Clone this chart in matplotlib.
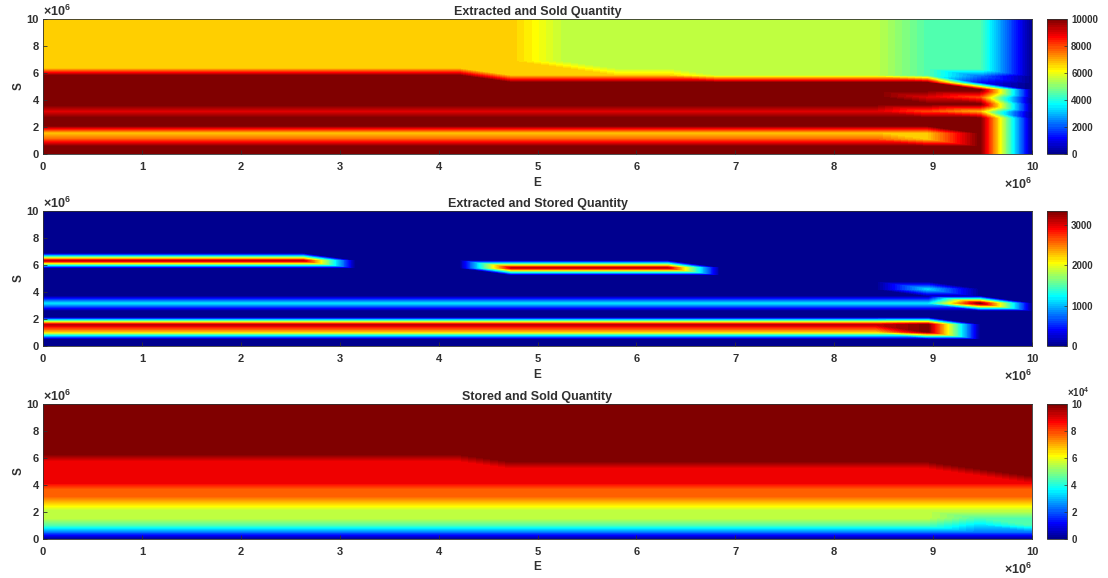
#!/usr/bin/env python3
import numpy as np
import matplotlib
matplotlib.use('Agg')
import matplotlib.pyplot as plt
import matplotlib.tri as mtri
from matplotlib.cm import ScalarMappable
from matplotlib.colors import ListedColormap, Normalize

plt.rcParams['font.family'] = ['Liberation Sans', 'DejaVu Sans']
plt.rcParams['font.weight'] = 'bold'
plt.rcParams['mathtext.fontset'] = 'custom'
plt.rcParams['mathtext.rm'] = 'Liberation Sans:bold'
plt.rcParams['mathtext.default'] = 'regular'

# grid nodes, in millions
e_nodes = [0, 0.526, 1.053, 1.579, 2.105, 2.632, 3.158, 3.684, 4.211, 4.737,
           5.263, 5.789, 6.316, 6.842, 7.368, 7.895, 8.421, 8.947, 9.474, 10]
s_nodes = [0, 0.526, 1.053, 1.579, 2.105, 2.632, 3.158, 3.684, 4.211, 4.737,
           5.263, 5.789, 6.316, 6.842, 7.368, 7.895, 8.421, 8.947, 9.474, 10]

# one row per S node, one value per E node
sold_rows = [
    [10000] * 19 + [0],
    [10000] * 19 + [0],
    [7778] * 17 + [6667, 10000, 0],
    [6667] * 18 + [10000, 0],
    [10000] * 19 + [0],
    [10000] * 19 + [0],
    [8889] * 17 + [7778, 6667, 0],
    [10000] * 19 + [0],
    [10000] * 17 + [8889, 7778, 0],
    [10000] * 19 + [0],
    [10000] * 18 + [1111, 0],
    [10000] * 9 + [6667] * 4 + [5556] * 4 + [4444, 2222, 0],
    [6667] * 11 + [5556] * 6 + [4444, 4444, 0],
] + [[6667] * 10 + [5556] * 7 + [4444, 4444, 0]] * 7

stored_rows = [
    [0] * 20,
    [0] * 20,
    [2222] * 17 + [3333, 0, 0],
    [3100] * 17 + [3333, 0, 0],
    [0] * 20,
    [0] * 20,
    [1111] * 18 + [3333, 0],
    [0] * 20,
    [0] * 17 + [1111, 0, 0],
    [0] * 20,
    [0] * 20,
    [0] * 9 + [3100] * 4 + [0] * 7,
    [3100] * 6 + [0] * 14,
] + [[0] * 20] * 7

stored_sold_rows = [
    [0] * 20,
    [22222] * 20,
    [44444] * 18 + [33333, 44444],
    [55556] * 18 + [44444, 44444],
    [55556] * 20,
    [66667] * 20,
    [77778] * 20,
    [77778] * 20,
    [88889] * 20,
    [88889] * 19 + [100000],
    [88889] * 18 + [100000, 100000],
    [88889] * 9 + [100000] * 11,
] + [[100000] * 20] * 8

titles = ['Extracted and Sold Quantity', 'Extracted and Stored Quantity', 'Stored and Sold Quantity']
color_max = [10000, 3350, 100000]
cbar_ticks = [[0, 2000, 4000, 6000, 8000, 10000], [0, 1000, 2000, 3000],
              [0, 20000, 40000, 60000, 80000, 100000]]
cbar_labels = [['0', '2000', '4000', '6000', '8000', '10000'], ['0', '1000', '2000', '3000'],
               ['0', '2', '4', '6', '8', '10']]
axis_ticks = [0, 2, 4, 6, 8, 10]
e_ticks = [0, 1, 2, 3, 4, 5, 6, 7, 8, 9, 10]

W, H = 1108, 578
DARK = '#303030'


def matlab_jet(n=64):
    x = (np.arange(n) + 1) / n
    r = np.clip(np.minimum(4 * x - 1.5, -4 * x + 4.5), 0, 1)
    g = np.clip(np.minimum(4 * x - 0.5, -4 * x + 3.5), 0, 1)
    b = np.clip(np.minimum(4 * x + 0.5, -4 * x + 2.5), 0, 1)
    return ListedColormap(np.column_stack([r, g, b]))


def make_triangulation():
    # each cell is split along the top-left to bottom-right diagonal
    ex, sy = np.meshgrid(e_nodes, s_nodes)
    nx, ny = len(e_nodes), len(s_nodes)
    triangles = []
    for j in range(ny - 1):
        for i in range(nx - 1):
            a = j * nx + i
            b = a + 1
            c = a + nx
            d = c + 1
            triangles.append([a, b, c])
            triangles.append([c, b, d])
    return mtri.Triangulation(ex.ravel() * 1e6, sy.ravel() * 1e6, triangles)


def px_axes(fig, x0, y0, x1, y1):
    return fig.add_axes([x0 / W, 1 - y1 / H, (x1 - x0) / W, (y1 - y0) / H])


def draw_panel(fig, tri, rows, title, vmax, ticks, labels, y0, y1, show_mult):
    cmap = matlab_jet()
    ax = px_axes(fig, 43, y0, 1032, y1)
    ax.set_facecolor('#00008f')
    levels = np.linspace(0, vmax, 65)
    z = np.minimum(np.array(rows, dtype=float).ravel(), vmax)
    ax.tricontourf(tri, z, levels=levels, cmap=cmap, vmin=0, vmax=vmax,
                   extend='both', antialiased=False)
    ax.set_xlim(0, 1e7)
    ax.set_ylim(0, 1e7)
    ax.set_xticks([t * 1e6 for t in e_ticks])
    ax.set_xticklabels([str(t) for t in e_ticks])
    ax.set_yticks([t * 1e6 for t in axis_ticks])
    ax.set_yticklabels([str(t) for t in axis_ticks])
    ax.tick_params(direction='in', length=3, width=0.6, labelsize=8, colors=DARK, pad=3)
    ax.tick_params(axis='x', pad=6)
    for spine in ax.spines.values():
        spine.set_linewidth(0.6)
        spine.set_color(DARK)
    ax.set_xlabel('E', fontsize=8.5, color=DARK, labelpad=3, fontweight='bold')
    ax.set_ylabel('S', fontsize=8.5, color=DARK, labelpad=1, fontweight='bold')
    ax.set_title(title, fontsize=9, color=DARK, pad=3, fontweight='bold')
    ax.text(0, 1.0, r'$\times10^{6}$', transform=ax.transAxes, fontsize=9,
            color=DARK, ha='left', va='bottom')
    ax.text(1, -0.17, r'$\times10^{6}$', transform=ax.transAxes, fontsize=9,
            color=DARK, ha='right', va='top')

    cax = px_axes(fig, 1047, y0, 1067, y1)
    sm = ScalarMappable(norm=Normalize(0, vmax), cmap=cmap)
    cb = fig.colorbar(sm, cax=cax, ticks=ticks)
    cb.ax.set_yticklabels(labels)
    cb.ax.tick_params(direction='in', length=2, width=0.5, labelsize=7, colors=DARK, pad=3)
    cb.outline.set_linewidth(0.6)
    cb.outline.set_edgecolor(DARK)
    if show_mult:
        cax.text(1.0, 1.035, r'$\times10^{4}$', transform=cax.transAxes, fontsize=7,
                 color=DARK, ha='left', va='bottom')


def main():
    fig = plt.figure(figsize=(W / 100, H / 100), dpi=100)
    tri = make_triangulation()
    data = [sold_rows, stored_rows, stored_sold_rows]
    spans = [(19, 154), (211, 346), (404, 539)]
    for k in range(3):
        draw_panel(fig, tri, data[k], titles[k], color_max[k], cbar_ticks[k], cbar_labels[k],
                   spans[k][0], spans[k][1], k == 2)
    fig.savefig('out.png', dpi=100)
    plt.close(fig)


if __name__ == '__main__':
    main()
